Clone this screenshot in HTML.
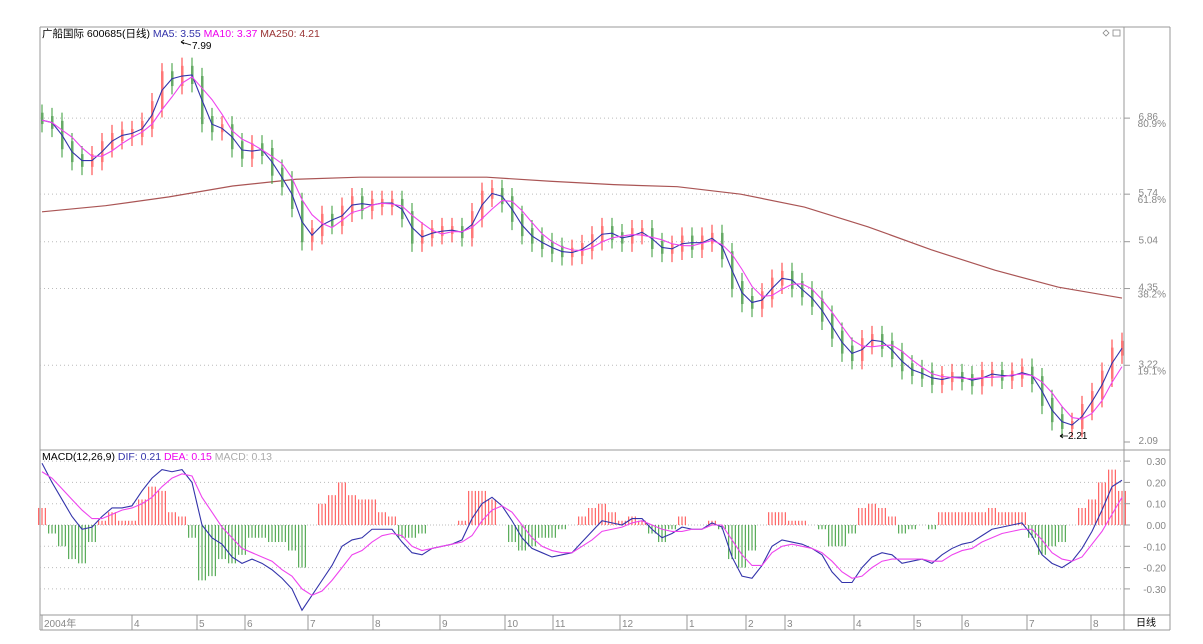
<!DOCTYPE html>
<html><head><meta charset="utf-8">
<style>
body{margin:0;background:#fff;}
svg{display:block;font-family:"Liberation Sans","Noto Sans CJK SC",sans-serif;}
</style></head>
<body>
<svg id="chart" width="1203" height="644" viewBox="0 0 1203 644">
  <rect x="0" y="0" width="1203" height="644" fill="#fff"/>
  <g id="frame" stroke="#999" fill="none">
    <line x1="40" y1="27" x2="1170" y2="27"/>
    <line x1="40" y1="27" x2="40" y2="630"/>
    <line x1="1124" y1="27" x2="1124" y2="630"/>
    <line x1="1170" y1="27" x2="1170" y2="630"/>
    <line x1="40" y1="450" x2="1170" y2="450"/>
    <line x1="40" y1="615" x2="1170" y2="615"/>
    <line x1="40" y1="630" x2="1170" y2="630"/>
  </g>
  <g id="grid"></g>
  <g id="ma250g"></g>
  <g id="candles"></g>
  <g id="mas"></g>
  <g id="macd"></g>
  <g id="axes" font-size="10" fill="#888"></g>
  <text x="42" y="37" font-size="10.5" fill="#000">广船国际 600685(日线) <tspan fill="#33a">MA5: 3.55</tspan>  <tspan fill="#e0e">MA10: 3.37</tspan>   <tspan fill="#933">MA250: 4.21</tspan></text>
  <text x="42" y="460" font-size="10.5" fill="#000">MACD(12,26,9) <tspan fill="#33a">DIF: 0.21</tspan> <tspan fill="#e0e">DEA: 0.15</tspan> <tspan fill="#aaa">MACD: 0.13</tspan></text>
  <text x="192" y="49" font-size="10" fill="#000">7.99</text>
  <path d="M181 42 L191 45 M181 42 l3 -2 M181 42 l3 2" stroke="#000" fill="none" stroke-width="0.8"/>
  <text x="1068" y="439" font-size="10" fill="#000">2.21</text>
  <path d="M1060 436 L1068 436 M1060 436 l3 -2 M1060 436 l3 2" stroke="#000" fill="none" stroke-width="0.8"/>
  <text x="1136" y="626" font-size="10" fill="#000">日线</text>
  <g stroke="#888" fill="none" stroke-width="0.8">
    <path d="M1103 33 l3 -3 l3 3 l-3 3z"/><rect x="1113" y="30" width="7" height="6"/>
  </g>
</svg>
<script>
const closes=[6.83,6.76,6.46,6.27,6.20,6.27,6.46,6.58,6.63,6.64,6.76,7.05,7.49,7.39,7.57,7.42,6.83,6.71,6.71,6.46,6.32,6.43,6.36,6.07,5.90,5.58,5.09,5.18,5.39,5.33,5.51,5.65,5.55,5.61,5.61,5.61,5.43,5.07,5.15,5.18,5.21,5.21,5.15,5.43,5.73,5.77,5.65,5.39,5.18,5.07,4.99,4.92,4.87,4.89,4.96,5.09,5.21,5.12,5.07,5.18,5.18,4.99,4.92,4.95,5.07,4.98,5.07,5.11,4.84,4.40,4.18,4.11,4.25,4.45,4.55,4.40,4.28,4.14,3.92,3.67,3.45,3.34,3.56,3.62,3.52,3.37,3.19,3.12,3.08,2.99,3.03,3.06,3.03,2.97,3.09,3.09,3.05,3.08,3.14,3.00,2.68,2.44,2.34,2.34,2.59,2.78,3.08,3.42,3.52];
const dif=[.29,.20,.12,.04,-.02,-.01,.04,.08,.08,.09,.16,.22,.26,.25,.26,.20,.00,-.06,-.09,-.15,-.18,-.16,-.18,-.21,-.25,-.30,-.40,-.33,-.26,-.19,-.10,-.07,-.06,-.02,-.02,-.02,-.08,-.13,-.14,-.11,-.10,-.09,-.07,.03,.10,.13,.09,.02,-.06,-.11,-.13,-.15,-.14,-.13,-.08,-.03,.02,.01,.00,.03,.03,-.02,-.06,-.04,-.01,-.02,-.02,.01,-.01,-.15,-.24,-.25,-.19,-.10,-.07,-.08,-.09,-.11,-.14,-.22,-.27,-.27,-.20,-.15,-.13,-.14,-.18,-.17,-.16,-.18,-.14,-.11,-.09,-.08,-.05,-.02,-.01,.00,.01,-.05,-.14,-.18,-.20,-.17,-.11,-.03,.07,.18,.21];
const dea=[.25,.22,.17,.12,.07,.03,.03,.05,.07,.08,.10,.13,.18,.22,.24,.23,.13,.06,-.01,-.06,-.11,-.13,-.15,-.17,-.21,-.24,-.30,-.33,-.31,-.26,-.20,-.14,-.12,-.08,-.05,-.04,-.05,-.10,-.12,-.11,-.10,-.09,-.08,-.05,.02,.07,.09,.06,.00,-.06,-.10,-.12,-.13,-.13,-.10,-.07,-.03,-.02,-.01,.01,.02,.00,-.02,-.03,-.03,-.02,-.02,.00,.00,-.07,-.14,-.19,-.19,-.13,-.10,-.09,-.10,-.11,-.13,-.17,-.22,-.25,-.24,-.20,-.17,-.16,-.16,-.16,-.16,-.17,-.17,-.14,-.12,-.11,-.08,-.06,-.04,-.03,-.02,-.02,-.07,-.13,-.16,-.17,-.15,-.09,-.03,.05,.13];
const ma250=[5.48,5.57,5.70,5.86,5.96,5.99,5.99,5.99,5.93,5.88,5.85,5.74,5.55,5.26,4.92,4.62,4.37,4.21];
const priceTicks=[6.86,5.74,5.04,4.35,3.22,2.09];
const pctTicks=["80.9%","61.8%","","38.2%","19.1%",""];
const macdTicks=[0.30,0.20,0.10,0.00,-0.10,-0.20,-0.30];
const months=["2004年","4","5","6","7","8","9","10","11","12","1","2","3","4","5","6","7","8"];
const monthIdx=[0,9,15.5,20.3,26.6,33.1,39.8,46.3,51.1,57.8,64.5,70.4,74.3,81.2,87.2,92,98.5,104.9];

const NS="http://www.w3.org/2000/svg";
const X0=42,X1=1122;
const xs=i=>X0+(X1-X0)*i/(closes.length-1);
const yP=p=>442-(p-2.09)*67.9;
const yM=v=>525-v*213;
function mk(t,a,p){const e=document.createElementNS(NS,t);for(const k in a)e.setAttribute(k,a[k]);p.appendChild(e);return e;}

const grid=document.getElementById('grid');
priceTicks.slice(0,5).forEach(p=>{const l=mk('line',{x1:40,x2:1124,y1:yP(p),y2:yP(p),stroke:'#bbb','stroke-dasharray':'1 3'},grid);

});
macdTicks.forEach(v=>{if(v===0)return;const l=mk('line',{x1:40,x2:1124,y1:yM(v),y2:yM(v),stroke:'#bbb','stroke-dasharray':'1 3'},grid);

});

const axes=document.getElementById('axes');
priceTicks.forEach((p,i)=>{
 mk('line',{x1:1124,x2:1130,y1:yP(p),y2:yP(p),stroke:'#999'},axes);
 const t=mk('text',{x:1158,y:yP(p)+2,'text-anchor':'end'},axes);t.textContent=p.toFixed(2);
 
 
 if(pctTicks[i]){const q=mk('text',{x:1166,y:yP(p)+9,'text-anchor':'end'},axes);q.textContent=pctTicks[i];
 
 }
});
macdTicks.forEach(v=>{
 mk('line',{x1:1124,x2:1130,y1:yM(v),y2:yM(v),stroke:'#999'},axes);
 const t=mk('text',{x:1166,y:yM(v)+4,'text-anchor':'end'},axes);t.textContent=v.toFixed(2);
 
 
});
months.forEach((m,i)=>{
 const x=xs(monthIdx[i]);
 mk('line',{x1:x,x2:x,y1:615,y2:630,stroke:'#999'},axes);
 const t=mk('text',{x:x+2,y:627},axes);t.textContent=m;
 
 
});

const m250=document.getElementById('ma250g');
const pts250=ma250.map((v,i)=>[X0+(X1-X0)*i/(ma250.length-1),yP(v)]);
const p250=mk('polyline',{points:pts250.map(p=>p.join(',')).join(' '),fill:'none',stroke:'#a55',"stroke-width":1.2},m250);



const cg=document.getElementById('candles');
closes.forEach((c,i)=>{
 const o=i?closes[i-1]:c+0.05;const up=c>=o;
 const hi=Math.max(o,c)+0.18,lo=Math.min(o,c)-0.18;
 const col=up?'#f33':'#393';
 const x=xs(i);
 const w=mk('line',{x1:x,x2:x,y1:yP(hi),y2:yP(lo),stroke:col,'stroke-width':1},cg);
 
 
 const top=yP(Math.max(o,c)+0.06),h=Math.max(6,Math.abs(yP(o)-yP(c))+8);
 const r=mk('rect',{x:x-1,y:top,width:2.5,height:h,fill:up?'#f77':'#6a6'},cg);
 
 
});

function ma(n){return closes.map((_,i)=>{const s=closes.slice(Math.max(0,i-n+1),i+1);return s.reduce((a,b)=>a+b,0)/s.length;});}
const mg=document.getElementById('mas');
[[ma(2),'#33a','ma5-line'],[ma(4),'#e4e','ma10-line']].forEach(([arr,col,nm])=>{
 const l=mk('polyline',{points:arr.map((v,i)=>xs(i)+','+yP(v)).join(' '),fill:'none',stroke:col,'stroke-width':1.1},mg);
 
 
});

const mcg=document.getElementById('macd');
const zl=mk('line',{x1:40,x2:1124,y1:yM(0),y2:yM(0),stroke:'#bbb','stroke-dasharray':'1 2'},mcg);


dif.forEach((d,i)=>{
 const h=2*(d-dea[i]);const x=xs(i);
 [-3.3,0,3.3].forEach(dx=>{
  const b=mk('line',{x1:x+dx,x2:x+dx,y1:yM(0),y2:yM(h),stroke:h>=0?'#f44':'#393','stroke-width':1},mcg);
  
  
 });
});
[[dif,'#33a','dif-line'],[dea,'#e4e','dea-line']].forEach(([arr,col,nm])=>{
 const l=mk('polyline',{points:arr.map((v,i)=>xs(i)+','+yM(v)).join(' '),fill:'none',stroke:col,'stroke-width':1.1},mcg);
 
 
});
</script>
</body></html>
